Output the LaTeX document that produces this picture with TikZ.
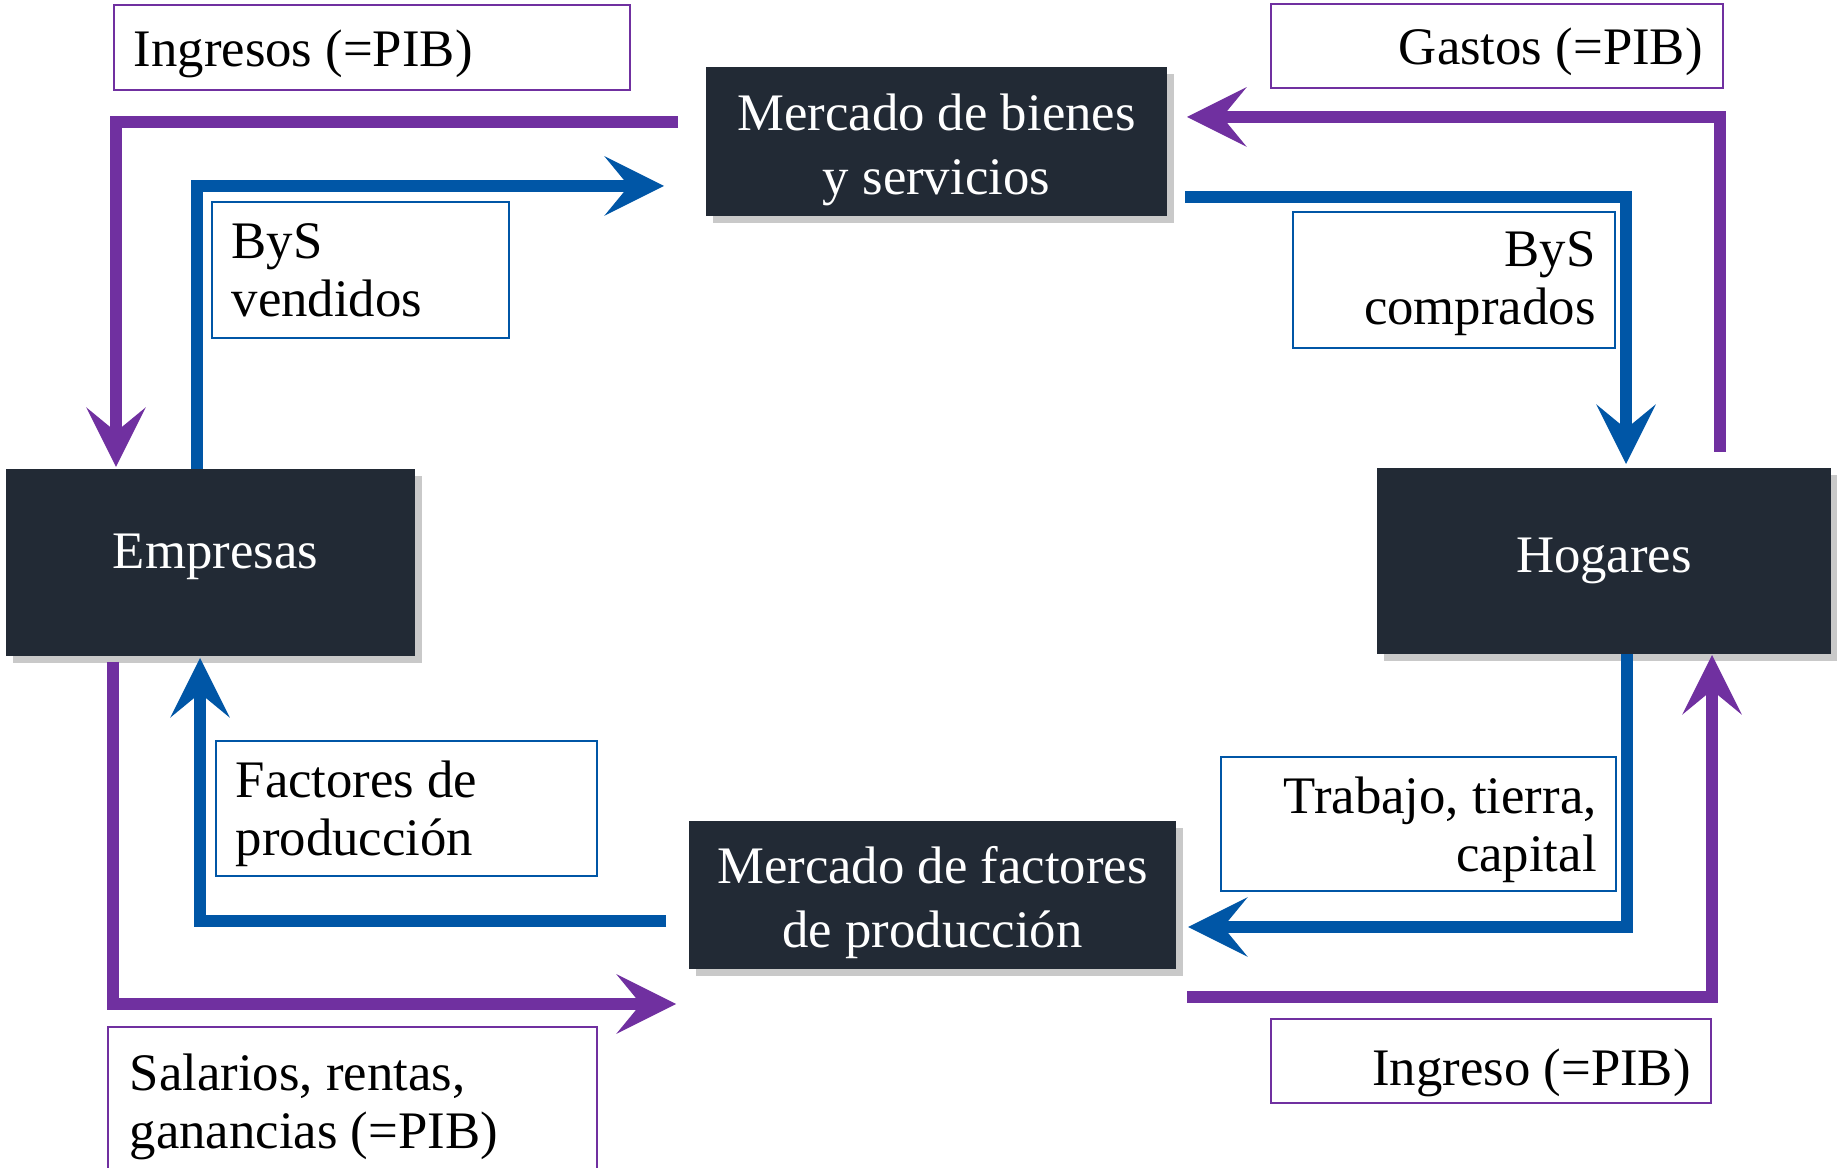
\documentclass[tikz,border=0pt]{standalone}
\usepackage{fontspec}
\setmainfont{Liberation Serif}
\usetikzlibrary{arrows.meta,shadows}
\definecolor{pur}{HTML}{7030A0}
\definecolor{blu}{HTML}{0056A6}
\definecolor{dark}{HTML}{222A35}
\begin{document}
\begin{tikzpicture}[x=0.01cm,y=-0.01cm,
  market/.style={fill=dark, inner sep=0pt,
    drop shadow={shadow xshift=2pt,shadow yshift=-2pt,opacity=0.3,fill=black!70}},
  mtext/.style={text=white, font=\fontsize{15}{18.2}\selectfont, align=center, inner sep=0pt},
  lbl/.style={draw, line width=0.6pt, fill=white, inner sep=0pt, anchor=north west},
  lblP/.style={lbl, draw=pur},
  lblB/.style={lbl, draw=blu},
  ltxtL/.style={font=\fontsize{15}{16.5}\selectfont, inner sep=0pt, align=left, anchor=west},
  ltxtR/.style={font=\fontsize{15}{16.5}\selectfont, inner sep=0pt, align=right, anchor=east},
  flowP/.style={draw=pur, line width=3.4pt, line join=miter, -{Stealth[length=17pt,width=17pt,inset=7pt,line width=0pt]}},
  flowB/.style={flowP, draw=blu},
]
\useasboundingbox (0,0) rectangle (1837,1168);

% market nodes
\node[market, minimum width=4.61cm, minimum height=1.49cm] (bienes) at (936.5,141.5) {};
\node[mtext] (bienesT) at ([yshift=-0.08cm]bienes.center) {Mercado de bienes\\y servicios};
\node[market, minimum width=4.09cm, minimum height=1.87cm] (empresas) at (210.5,562.5) {};
\node[mtext] (empresasT) at ([xshift=0.05cm,yshift=0.06cm]empresas.center) {Empresas};
\node[market, minimum width=4.54cm, minimum height=1.86cm] (hogares) at (1604,561) {};
\node[mtext] (hogaresT) at (hogares.center) {Hogares};
\node[market, minimum width=4.87cm, minimum height=1.47cm] (factores) at (932.5,895) {};
\node[mtext] (factoresT) at ([yshift=-0.08cm]factores.center) {Mercado de factores\\de producción};

% label boxes
\node[lblP, minimum width=5.16cm, minimum height=0.85cm] (lIngresos) at (113,4) {};
\node[ltxtL] (tIngresos) at ([xshift=0.2cm,yshift=-0.06cm]lIngresos.west) {Ingresos (=PIB)};
\node[lblP, minimum width=4.52cm, minimum height=0.84cm] (lGastos) at (1270,3) {};
\node[ltxtR] (tGastos) at ([xshift=-0.21cm,yshift=-0.06cm]lGastos.east) {Gastos (=PIB)};
\node[lblB, minimum width=2.97cm, minimum height=1.36cm] (lVend) at (211,201) {};
\node[ltxtL] (tVend) at ([xshift=0.2cm]lVend.west) {ByS\\vendidos};
\node[lblB, minimum width=3.22cm, minimum height=1.36cm] (lComp) at (1292,211) {};
\node[ltxtR] (tComp) at ([xshift=-0.2cm,yshift=-0.04cm]lComp.east) {ByS\\comprados};
\node[lblB, minimum width=3.81cm, minimum height=1.35cm] (lFact) at (215,740) {};
\node[ltxtL] (tFact) at ([xshift=0.2cm,yshift=-0.05cm]lFact.west) {Factores de\\producción};
\node[lblB, minimum width=3.95cm, minimum height=1.34cm] (lTrab) at (1220,756) {};
\node[ltxtR] (tTrab) at ([xshift=-0.2cm,yshift=-0.06cm]lTrab.east) {Trabajo, tierra,\\capital};
\node[lblP, minimum width=4.89cm, minimum height=1.54cm] (lSal) at (107,1026) {};
\node[ltxtL] (tSal) at ([xshift=0.22cm,yshift=-0.03cm]lSal.west) {Salarios, rentas,\\ganancias (=PIB)};
\node[lblP, minimum width=4.40cm, minimum height=0.84cm] (lIng) at (1270,1018) {};
\node[ltxtR] (tIng) at ([xshift=-0.21cm,yshift=-0.12cm]lIng.east) {Ingreso (=PIB)};

% connector end points
\coordinate (a1) at (678,122);  \coordinate (a2) at (116,467);
\coordinate (b1) at (197,469);  \coordinate (b2) at (664,186);
\coordinate (c1) at (1720,452); \coordinate (c2) at (1187,117);
\coordinate (d1) at (1185,197); \coordinate (d2) at (1626,464);
\coordinate (e1) at (113,662);  \coordinate (e2) at (676,1004);
\coordinate (f1) at (666,921);  \coordinate (f2) at (200,658);
\coordinate (g1) at (1627,654); \coordinate (g2) at (1188,927);
\coordinate (h1) at (1187,997); \coordinate (h2) at (1712,655);

\draw[flowP] (a1) -| (a2);
\draw[flowB] (b1) |- (b2);
\draw[flowP] (c1) |- (c2);
\draw[flowB] (d1) -| (d2);
\draw[flowP] (e1) |- (e2);
\draw[flowB] (f1) -| (f2);
\draw[flowB] (g1) |- (g2);
\draw[flowP] (h1) -| (h2);
\end{tikzpicture}
\end{document}
